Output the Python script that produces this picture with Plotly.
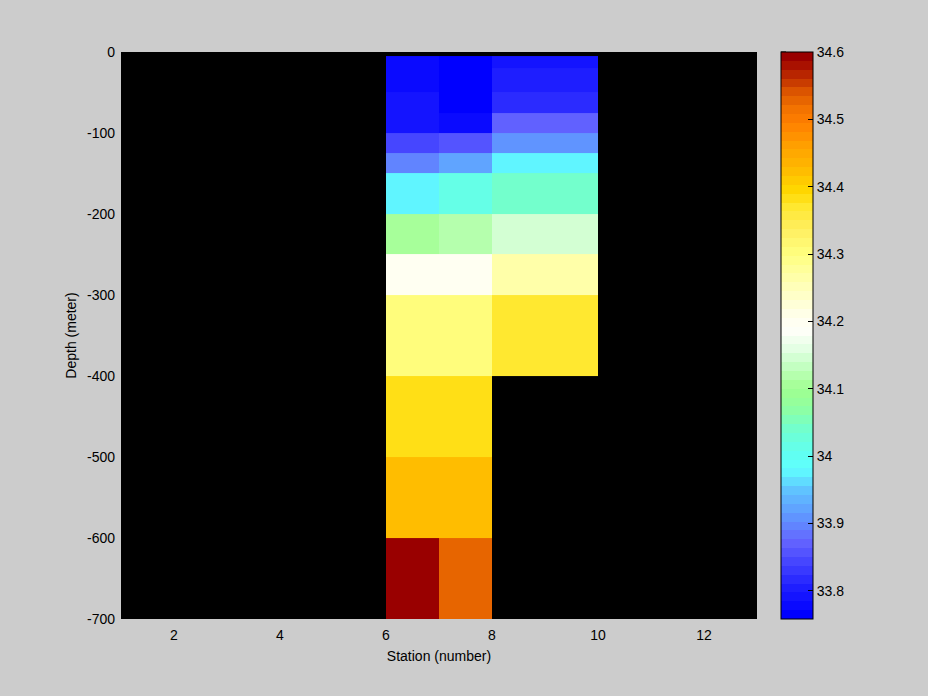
import numpy as np
import plotly.graph_objects as go

# ---- data ----
station_edges = [6, 7, 8, 10]
depth_edges = [-5, -20, -50, -75, -100, -125, -150, -200, -250, -300, -400, -500, -600, -700]
nan = float("nan")
sal_st6 = [33.778, 33.778, 33.792, 33.792, 33.842, 33.893, 33.973, 34.103, 34.196, 34.301, 34.385, 34.423, 34.600]
sal_st7 = [33.758, 33.758, 33.758, 33.772, 33.859, 33.926, 34.011, 34.116, 34.196, 34.301, 34.385, 34.423, 34.524]
sal_st8 = [33.792, 33.800, 33.813, 33.867, 33.910, 33.973, 34.044, 34.141, 34.263, 34.364, nan, nan, nan]
x_ticks = [2, 4, 6, 8, 10, 12]
y_ticks = [0, -100, -200, -300, -400, -500, -600, -700]
cb_ticks = [33.8, 33.9, 34.0, 34.1, 34.2, 34.3, 34.4, 34.5, 34.6]

# ---- colormap (64 discrete levels) ----
anchors = [
    (0.00, (0, 0, 255)), (0.05, (32, 32, 255)), (0.13, (100, 100, 255)),
    (0.17, (96, 144, 255)), (0.22, (96, 192, 255)), (0.26, (96, 255, 255)),
    (0.29, (96, 255, 240)), (0.33, (112, 255, 208)), (0.37, (144, 255, 160)),
    (0.405, (160, 255, 144)), (0.45, (200, 255, 200)), (0.48, (232, 255, 232)),
    (0.51, (255, 255, 248)), (0.53, (255, 255, 240)), (0.58, (255, 255, 192)),
    (0.645, (255, 255, 128)), (0.69, (255, 238, 96)), (0.73, (255, 232, 48)),
    (0.76, (255, 216, 0)), (0.80, (255, 184, 0)), (0.84, (255, 160, 0)),
    (0.88, (255, 128, 0)), (0.91, (240, 112, 0)), (0.94, (216, 80, 0)),
    (0.96, (192, 48, 0)), (0.985, (168, 16, 0)), (1.00, (153, 0, 0)),
]
af = np.array([a[0] for a in anchors])
ac = np.array([a[1] for a in anchors], dtype=float)
N = 64
colorscale = []
for i in range(N):
    t = i / (N - 1)
    rgb = [int(round(np.interp(t, af, ac[:, k]))) for k in range(3)]
    c = "rgb(%d,%d,%d)" % tuple(rgb)
    colorscale.append([i / N, c])
    colorscale.append([(i + 1) / N, c])

z = np.array([sal_st6, sal_st7, sal_st8]).T
zmin = float(np.nanmin(z))
zmax = float(np.nanmax(z))

font = dict(family="Liberation Sans, Arial, sans-serif", size=14, color="black")

L, R, T, B = 121, 171, 52, 77
W, H = 928, 696
pw = W - L - R
cbx = (781 - L) / pw

fig = go.Figure()
fig.add_trace(go.Heatmap(
    x=station_edges, y=depth_edges, z=z,
    colorscale=colorscale, zmin=zmin, zmax=zmax,
    hoverongaps=False,
    colorbar=dict(
        thickness=32, thicknessmode="pixels", len=1, lenmode="fraction",
        y=0.5, yanchor="middle", x=cbx, xanchor="left", xpad=0, ypad=0,
        outlinewidth=1, outlinecolor="black",
        ticks="inside", ticklen=5, tickcolor="black", tickwidth=1,
        tickvals=cb_ticks, ticktext=[("%g" % v) for v in cb_ticks],
        tickfont=font,
    ),
))

# left-side colorbar ticks (MATLAB draws them on both sides)
for v in cb_ticks:
    fy = (v - zmin) / (zmax - zmin)
    fig.add_shape(type="line", xref="paper", yref="paper",
                  x0=cbx, x1=cbx + 5 / pw, y0=fy, y1=fy,
                  line=dict(color="black", width=1))

fig.update_layout(
    width=W, height=H, autosize=False,
    margin=dict(l=L, r=R, t=T, b=B, pad=0),
    paper_bgcolor="#cccccc", plot_bgcolor="black",
    font=font, showlegend=False,
)
fig.update_xaxes(
    range=[1, 13], tickvals=x_ticks, ticktext=[str(v) for v in x_ticks],
    ticks="", showline=False,
    showgrid=False, zeroline=False, ticklabelstandoff=6,
    title=dict(text="Station (number)", font=font, standoff=9),
    automargin=False,
)
fig.update_yaxes(
    range=[-700, 0], tickvals=y_ticks, ticktext=[("%d" % v) for v in y_ticks],
    ticks="", showline=False,
    showgrid=False, zeroline=False, ticklabelstandoff=5,
    title=dict(text="Depth (meter)", font=font, standoff=7),
    automargin=False,
)

fig.write_html(
    "out.html",
    config={"displayModeBar": False},
    post_script="document.body.style.margin='0';document.body.style.padding='0';"
                "document.body.style.background='#cccccc';",
)
